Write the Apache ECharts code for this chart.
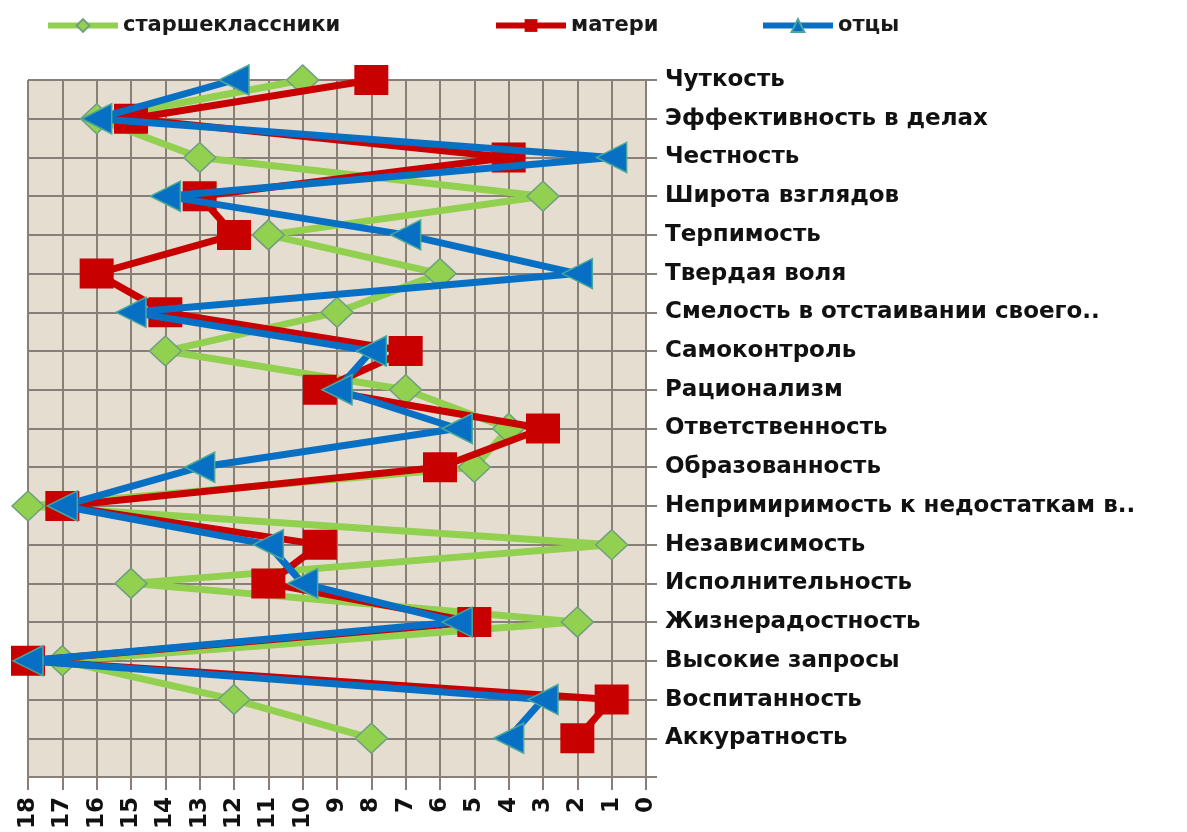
<!DOCTYPE html>
<html>
<head>
<meta charset="utf-8">
<script src="https://cdn.jsdelivr.net/npm/echarts@6/dist/echarts.min.js"></script>
<style>
html,body{margin:0;padding:0;background:#ffffff;}
#chart{width:1187px;height:832px;}
</style>
</head>
<body>
<div id="chart"></div>
<script>
const categories = [
  'Чуткость',
  'Эффективность в делах',
  'Честность',
  'Широта взглядов',
  'Терпимость',
  'Твердая воля',
  'Смелость в отстаивании своего..',
  'Самоконтроль',
  'Рационализм',
  'Ответственность',
  'Образованность',
  'Непримиримость к недостаткам в..',
  'Независимость',
  'Исполнительность',
  'Жизнерадостность',
  'Высокие запросы',
  'Воспитанность',
  'Аккуратность'
];
const seriesNames = ['старшеклассники', 'матери', 'отцы'];
const students = [10, 16, 13, 3, 11, 6, 9, 14, 7, 4, 5, 18, 1, 15, 2, 17, 12, 8];
const mothers  = [8, 15, 4, 13, 12, 16, 14, 7, 9.5, 3, 6, 17, 9.5, 11, 5, 18, 1, 2];
const fathers  = [12, 16, 1, 14, 7, 2, 15, 8, 9, 5.5, 13, 17, 11, 10, 5.5, 18, 3, 4];
const valueTicks = [0, 18, 1];

const chart = echarts.init(document.getElementById('chart'), null, {renderer: 'canvas'});
const gridColor = '#877f78';
const labelFont = '"DejaVu Sans", "Liberation Sans", sans-serif';

function legend(name, left) {
  return {
    data: [name],
    left: left,
    top: 10,
    itemWidth: 70,
    itemHeight: 16,
    itemGap: 5,
    symbolRotate: 0,
    lineStyle: {width: 6},
    textStyle: {fontFamily: labelFont, fontWeight: 'bold', fontSize: 21, color: '#1a1a1a'}
  };
}

chart.setOption({
  animation: false,
  backgroundColor: '#ffffff',
  legend: [legend(seriesNames[0], 40), legend(seriesNames[1], 488), legend(seriesNames[2], 755)],
  grid: {
    left: 28, right: 541, top: 80, bottom: 48,
    show: true, backgroundColor: '#e6ddd1', borderWidth: 0
  },
  xAxis: {
    type: 'value',
    inverse: true,
    min: valueTicks[0], max: valueTicks[1], interval: valueTicks[2],
    position: 'bottom',
    axisLine: {show: true, lineStyle: {color: gridColor, width: 2}},
    axisTick: {show: true, length: 13, lineStyle: {color: gridColor, width: 2}},
    splitLine: {show: true, lineStyle: {color: gridColor, width: 2}},
    axisLabel: {
      rotate: 90, margin: 20,
      fontFamily: labelFont, fontWeight: 'bold', fontSize: 23, color: '#111'
    }
  },
  yAxis: {
    type: 'category',
    inverse: true,
    boundaryGap: false,
    position: 'right',
    data: categories.concat(['']),
    axisLine: {show: true, lineStyle: {color: gridColor, width: 2}},
    axisTick: {show: true, length: 11, interval: 0, lineStyle: {color: gridColor, width: 2}},
    splitLine: {show: true, interval: 0, lineStyle: {color: gridColor, width: 2}},
    axisLabel: {
      interval: 0, margin: 19, padding: [6, 0, 0, 0],
      fontFamily: labelFont, fontWeight: 'bold', fontSize: 23, color: '#111'
    }
  },
  series: [
    {
      name: seriesNames[0], type: 'line',
      data: students,
      symbol: 'diamond', symbolSize: [32, 30],
      lineStyle: {color: '#92d050', width: 7},
      itemStyle: {color: '#92d050', borderColor: '#6f9f80', borderWidth: 1.5},
      z: 2
    },
    {
      name: seriesNames[1], type: 'line',
      data: mothers,
      symbol: 'rect', symbolSize: [34, 30],
      lineStyle: {color: '#c80000', width: 7},
      itemStyle: {color: '#c80000', borderColor: '#c80000', borderWidth: 0},
      z: 3
    },
    {
      name: seriesNames[2], type: 'line',
      data: fathers,
      symbol: 'triangle', symbolRotate: 90, symbolSize: [30, 30],
      lineStyle: {color: '#0870c4', width: 7},
      itemStyle: {color: '#0870c4', borderColor: '#4aa89a', borderWidth: 1.5},
      z: 4
    }
  ]
});
</script>
</body>
</html>
